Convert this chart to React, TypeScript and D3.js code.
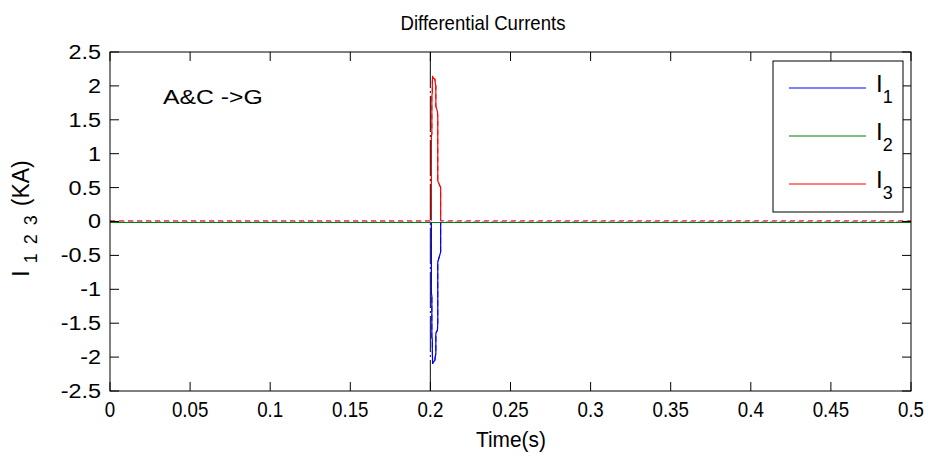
import React from "react";
import * as d3 from "d3";

const W = 933, H = 459;
const M = { left: 110, right: 22, top: 52, bottom: 68 };

const xTicks = [0, 0.05, 0.1, 0.15, 0.2, 0.25, 0.3, 0.35, 0.4, 0.45, 0.5];
const yTicks = [-2.5, -2, -1.5, -1, -0.5, 0, 0.5, 1, 1.5, 2, 2.5];

const faultTime = 0.2;

// I3 (red) time/value
const t3 = [0, 0.2006, 0.2006, 0.2009, 0.2009, 0.2012, 0.2012, 0.2014, 0.2016, 0.2028, 0.2030, 0.2034, 0.2034, 0.2044, 0.2046, 0.2046, 0.2064, 0.2064, 0.5];
const v3 = [0.01, 0.01, 1.25, 1.3, 1.85, 1.9, 2.05, 2.15, 2.12, 2.1, 2.05, 2.0, 1.7, 1.62, 1.55, 0.6, 0.5, 0.01, 0.01];

// I1 (blue) time/value
const t1 = [0, 0.2006, 0.2006, 0.2009, 0.2009, 0.2012, 0.2012, 0.2014, 0.2016, 0.2028, 0.2030, 0.2034, 0.2034, 0.2044, 0.2046, 0.2046, 0.2064, 0.2064, 0.5];
const v1 = [-0.01, -0.01, -1.05, -1.1, -1.7, -1.75, -1.9, -2.1, -2.08, -2.05, -2.0, -1.95, -1.65, -1.6, -1.5, -0.6, -0.45, -0.01, -0.01];

// I2 (green)
const t2 = [0, 0.5];
const v2 = [-0.015, -0.015];

const series = [
  { name: "1", color: "#0000ff", t: t1, v: v1 },
  { name: "2", color: "#008000", t: t2, v: v2 },
  { name: "3", color: "#ff0000", t: t3, v: v3 },
];

const FONT = "'Liberation Sans', Arial, Helvetica, sans-serif";

const sx = (cx: number, k: number) => `translate(${cx},0) scale(${k},1) translate(${-cx},0)`;

export default function App() {
  const x = d3.scaleLinear().domain([0, 0.5]).range([M.left, W - M.right]);
  const y = d3.scaleLinear().domain([-2.5, 2.5]).range([H - M.bottom, M.top]);
  const x0 = x.range()[0], x1 = x.range()[1];
  const y0 = y.range()[1], y1 = y.range()[0];
  const line = d3
    .line<[number, number]>()
    .x((d) => x(d[0]))
    .y((d) => y(d[1]));
  const tickLen = 9;

  const legX = 773, legY = 61, legW = 130, legH = 151;

  return (
    <svg width={W} height={H} style={{ display: "block", position: "absolute", left: 0, top: 0, fontFamily: FONT }}>
      <rect x={0} y={0} width={W} height={H} fill="#fff" />
      <defs>
        <clipPath id="clip">
          <rect x={x0} y={y0} width={x1 - x0} height={y1 - y0} />
        </clipPath>
      </defs>
      {/* data */}
      <g clipPath="url(#clip)">
        {series.map((s) => (
          <path
            key={s.name}
            d={line(s.t.map((t, i) => [t, s.v[i]] as [number, number])) || ""}
            fill="none"
            stroke={s.color}
            strokeWidth={1}
            strokeDasharray={s.name === "1" ? "6,3" : s.name === "3" ? "5,4" : undefined}
          />
        ))}
        {[series[0], series[2]].map((s) => {
          const pts = s.t.map((t, i) => [t, s.v[i]] as [number, number]).filter((d) => d[0] > 0.2 && d[0] < 0.21);
          return <path key={"sp" + s.name} d={line(pts) || ""} fill="none" stroke={s.color} strokeWidth={1.2} />;
        })}
      </g>
      {/* fault line */}
      <line x1={x(faultTime)} x2={x(faultTime)} y1={y0} y2={y1} stroke="#333" strokeWidth={1.2} strokeDasharray="36,3,2,3" />
      {/* axes box */}
      <rect x={x0} y={y0} width={x1 - x0} height={y1 - y0} fill="none" stroke="#000" strokeWidth={1} />
      {xTicks.map((t) => (
        <g key={"xt" + t}>
          <line x1={x(t)} x2={x(t)} y1={y1} y2={y1 - tickLen} stroke="#000" />
          <line x1={x(t)} x2={x(t)} y1={y0} y2={y0 + tickLen} stroke="#000" />
          <text x={x(t)} y={y1 + 26} fontSize={22} textAnchor="middle" fill="#000" transform={sx(x(t), 0.85)}>
            {String(t)}
          </text>
        </g>
      ))}
      {yTicks.map((v) => (
        <g key={"yt" + v}>
          <line x1={x0} x2={x0 + tickLen} y1={y(v)} y2={y(v)} stroke="#000" />
          <line x1={x1} x2={x1 - tickLen} y1={y(v)} y2={y(v)} stroke="#000" />
          <text x={x0 - 9} y={y(v) + 7} fontSize={19.5} textAnchor="end" fill="#000" transform={sx(x0 - 9, 1.2)}>
            {String(v)}
          </text>
        </g>
      ))}
      {/* title */}
      <text x={483} y={30} fontSize={20} textAnchor="middle" fill="#000" transform={sx(483, 0.93)}>
        Differential Currents
      </text>
      {/* x label */}
      <text x={511} y={447} fontSize={22} textAnchor="middle" fill="#000" transform={sx(511, 0.95)}>
        Time(s)
      </text>
      {/* y label */}
      <text transform={`translate(29, ${(y0 + y1) / 2 - 3}) rotate(-90)`} fontSize={23} textAnchor="middle" fill="#000">
        <tspan>I</tspan>
        <tspan fontSize={18} dy={8} letterSpacing={2}> 1 2 3 </tspan>
        <tspan dy={-8}>(KA)</tspan>
      </text>
      {/* annotation */}
      <text x={163} y={104} fontSize={19.5} fill="#000" transform={sx(163, 1.27)}>
        A&amp;C -&gt;G
      </text>
      {/* legend */}
      <rect x={legX} y={legY} width={legW} height={legH} fill="#fff" stroke="#000" strokeWidth={1} />
      {series.map((s, i) => {
        const ly = 88 + i * 48;
        return (
          <g key={"lg" + s.name}>
            <line x1={789} x2={866} y1={ly} y2={ly} stroke={s.color} strokeWidth={1} />
            <text x={876} y={ly + 4} fontSize={24} fill="#000">
              I
              <tspan fontSize={18} dy={11}>{s.name}</tspan>
            </text>
          </g>
        );
      })}
    </svg>
  );
}
